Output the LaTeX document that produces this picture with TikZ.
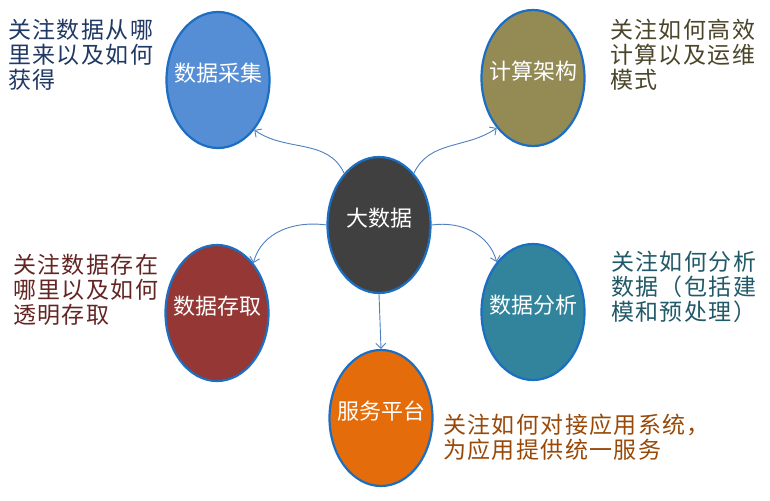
\documentclass[tikz,border=0pt]{standalone}
\usepackage{fontspec}
\setmainfont{Noto Sans CJK SC}
\newfontfamily\notefont{Noto Sans CJK SC}[LetterSpace=6]
\usetikzlibrary{shapes.geometric,arrows.meta}
\definecolor{ringBlue}{HTML}{1B6EC2}
\definecolor{linkBlue}{HTML}{4F7FC0}
\definecolor{caijiFill}{HTML}{558ED5}
\definecolor{jisuanFill}{HTML}{948A54}
\definecolor{centreFill}{HTML}{404040}
\definecolor{cunquFill}{HTML}{953735}
\definecolor{fenxiFill}{HTML}{31849B}
\definecolor{fuwuFill}{HTML}{E46C0A}
\definecolor{caijiText}{HTML}{1F3864}
\definecolor{jisuanText}{HTML}{4A452A}
\definecolor{cunquText}{HTML}{632523}
\definecolor{fenxiText}{HTML}{215968}
\definecolor{fuwuText}{HTML}{984807}

\begin{document}
\begin{tikzpicture}[x=1pt,y=-1pt,
	bubble/.style={ellipse,draw=ringBlue,line width=2.2pt,minimum width=103pt,minimum height=136pt,
		inner ysep=0pt,inner xsep=-10pt,text=white,text height=15pt,text depth=12pt,font=\fontsize{22}{24}\selectfont},
	note/.style={anchor=north west,align=left,inner sep=0pt,font=\notefont\fontsize{23}{25}\selectfont},
	link/.style={color=linkBlue,line width=0.9pt,-{Straight Barb[length=5pt,width=10pt]}}]
	\useasboundingbox (0,0) rectangle (770,500);
	% the hub and its five topics
	\node[bubble,fill=centreFill] (dashuju) at (379,225) {大数据};
	\node[bubble,fill=caijiFill]  (caiji)   at (218,80)  {数据采集};
	\node[bubble,fill=jisuanFill] (jisuan)  at (533,78)  {计算架构};
	\node[bubble,fill=cunquFill]  (cunqu)   at (217,313) {数据存取};
	\node[bubble,fill=fenxiFill]  (fenxi)   at (533,312) {数据分析};
	\node[bubble,fill=fuwuFill]   (fuwu)    at (381,418) {服务平台};
	% notes
	\node[note,text=caijiText]  (caijiNote)  at (8,19)    {关注数据从哪\\里来以及如何\\获得};
	\node[note,text=jisuanText] (jisuanNote) at (610,19)  {关注如何高效\\计算以及运维\\模式};
	\node[note,text=cunquText]  (cunquNote)  at (13,254)  {关注数据存在\\哪里以及如何\\透明存取};
	\node[note,text=fenxiText]  (fenxiNote)  at (611,251) {关注如何分析\\数据（包括建\\模和预处理）};
	\node[note,text=fuwuText]   (fuwuNote)   at (443,414) {关注如何对接应用系统，\\为应用提供统一服务};
	\path[link]
	(dashuju.124) edge[out=115,in=-35] (caiji.-54)
	(dashuju.56)  edge[out=65,in=-145] (jisuan.-126)
	(dashuju.180) edge[out=172,in=75]  (cunqu.54)
	(dashuju.0)   edge[out=8,in=105]   (fenxi.126)
	(dashuju.south) edge (fuwu.north);
\end{tikzpicture}
\end{document}
